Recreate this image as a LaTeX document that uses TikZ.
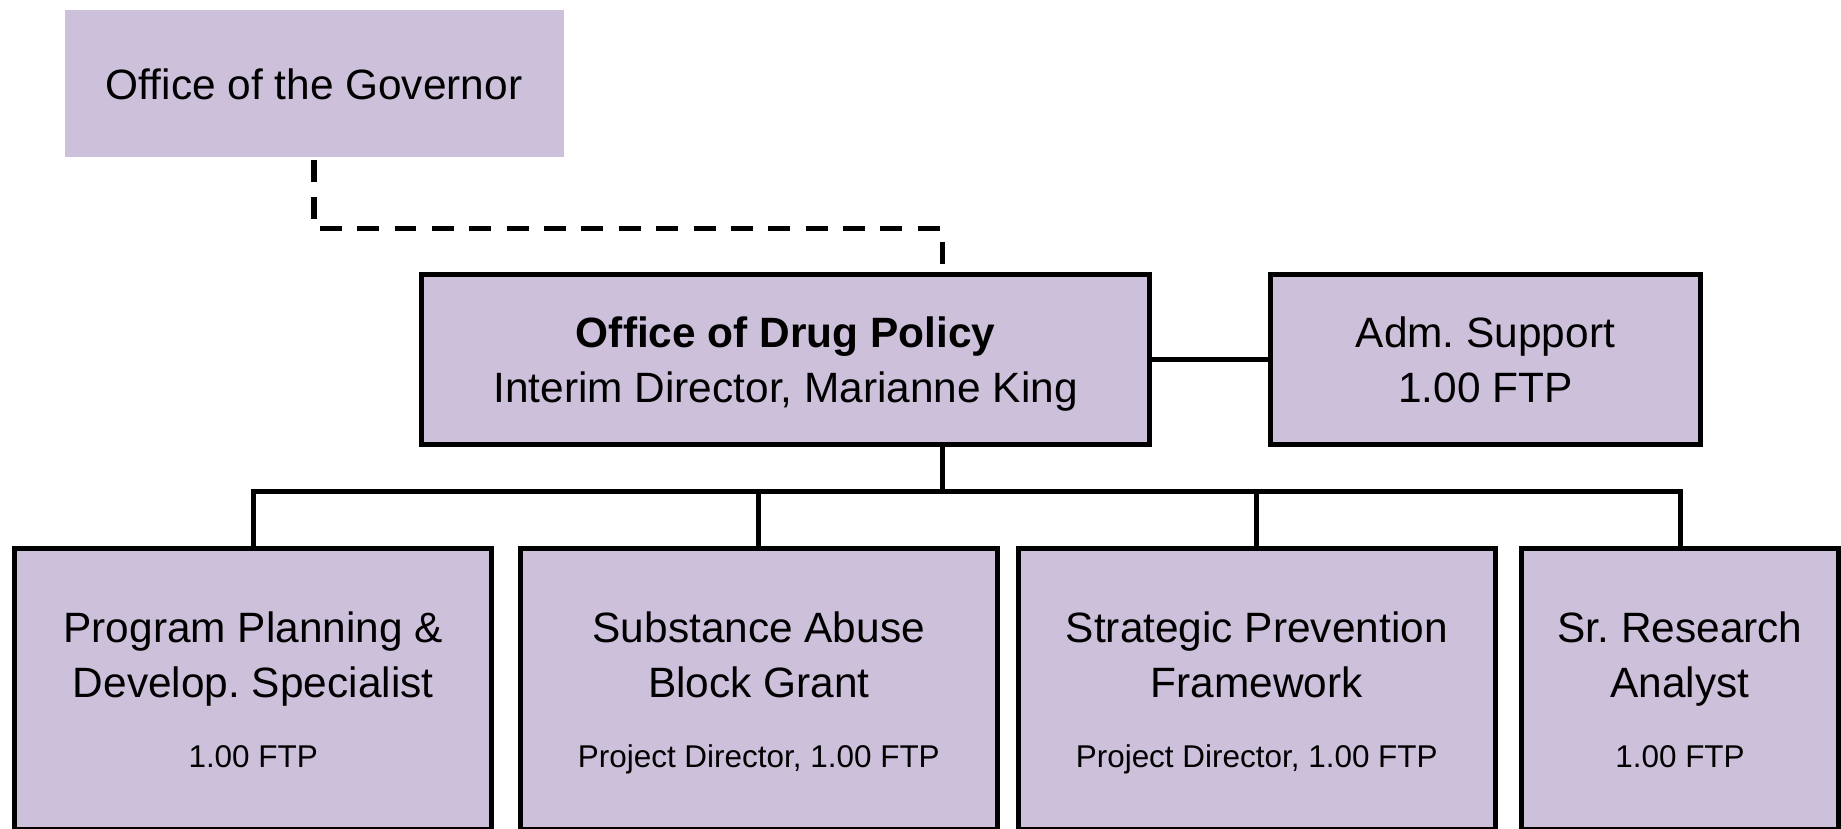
\documentclass[tikz,border=0pt]{standalone}
\usepackage{fontspec}
\setmainfont{Liberation Sans}
\frenchspacing

\definecolor{lilac}{RGB}{204,192,218}
\newcommand{\postline}[1]{{\fontsize{17.9}{22}\selectfont #1}}

\begin{document}
\begin{tikzpicture}[
        line width = 2.85pt,
        font = \fontsize{24.13}{31.3}\selectfont,
        unit/.style = {
            rectangle,
            draw = black,
            fill = lilac,
            align = center,
            text depth = 0pt,
            inner sep = 0pt
        },
        post/.style = {
            unit,
            minimum width = 9.54cm,
            minimum height = 5.62cm
        }
    ]

        \useasboundingbox (0.0, 0.0) rectangle (36.82, 16.58);

        % Positions for all of the boxes and the junctions.
        \coordinate (G) at (6.28, 14.905);
        \coordinate (D) at (15.713, 9.38);
        \coordinate (S) at (29.708, 9.38);
        \coordinate (K) at (18.85, 12.0);
        \coordinate (J) at (18.85, 6.74);
        \coordinate (P1) at (5.064, 2.79);
        \coordinate (P2) at (15.176, 2.79);
        \coordinate (P3) at (25.135, 2.79);
        \coordinate (P4) at (33.6, 2.79);

        % The governor on top, without a frame.
        \node[unit, draw = none, minimum width = 9.98cm, minimum height = 2.95cm]
            (gov) at (G) {Office of the Governor};

        % The office itself and its support.
        \node[unit, minimum width = 14.562cm, minimum height = 3.4cm] (odp) at (D)
            {\bfseries Office of Drug Policy\\Interim Director, Marianne King};
        \node[unit, minimum width = 8.584cm, minimum height = 3.4cm] (adm) at (S)
            {Adm. Support\\1.00 FTP};

        % The four posts below.
        \node[post] (ppd) at (P1)
            {Program Planning \&\\Develop. Specialist\\[8.5pt]\postline{1.00 FTP}};
        \node[post] (sabg) at (P2)
            {Substance Abuse\\Block Grant\\[8.5pt]\postline{Project Director, 1.00 FTP}};
        \node[post] (spf) at (P3)
            {Strategic Prevention\\Framework\\[8.5pt]\postline{Project Director, 1.00 FTP}};
        \node[post, minimum width = 6.35cm] (sra) at (P4)
            {Sr. Research\\Analyst\\[8.5pt]\postline{1.00 FTP}};

        % Dashed line from the governor.
        \draw[dash pattern = on 12.5pt off 8.77pt]
            (gov.south) -- (gov.south |- K) -- (K) -- (K |- odp.north);

        % Solid lines of the chart.
        \draw (odp.east) -- (adm.west);
        \draw (odp.south -| J) -- (J);
        \draw (ppd.north) -- (ppd.north |- J) -- (sra.north |- J) -- (sra.north);
        \draw (sabg.north) -- (sabg.north |- J);
        \draw (spf.north) -- (spf.north |- J);
    \end{tikzpicture}
\end{document}
